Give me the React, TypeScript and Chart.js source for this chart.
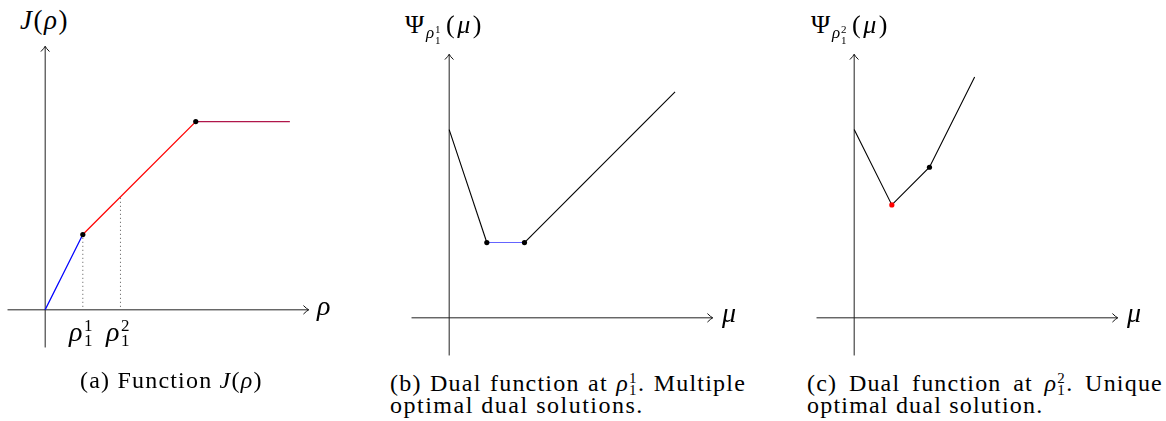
import React, { useEffect, useRef } from "react";
import { Chart, registerables } from "chart.js";

Chart.register(...registerables);

// ---------- data ----------
const axisRange = [-1, 7];

// panel (a): J(rho)
const rhoA = [0, 1, 4, 6.5];
const jA = [0, 2, 5, 5];
const segColorsA = ["#0000ff", "#ff0000", "#b0164a"];
const markA = [false, true, true, false];
const rhoTicks = [1, 2];
const rhoTickJ = [2, 3];
const rhoTickSup = ["1", "2"];
const rhoTickSub = ["1", "1"];

// panel (b): Psi at rho_1^1
const muB = [0, 1, 2, 6];
const psiB = [5, 2, 2, 6];
const segColorsB = ["#000000", "#6464ff", "#000000"];
const markB = [false, true, true, false];
const markColorsB = ["#000", "#000", "#000", "#000"];

// panel (c): Psi at rho_1^2
const muC = [0, 1, 2, 3.2];
const psiC = [5, 3, 4, 6.4];
const segColorsC = ["#000000", "#000000", "#000000"];
const markC = [false, true, true, false];
const markColorsC = ["#000", "#ff0000", "#000", "#000"];

const SCALE_MIN = -1.2;
const SCALE_MAX = 7.3;
const SIZE = 320;

const arrowPlugin = {
  id: "arrows",
  afterDatasetsDraw(chart: any) {
    const { ctx, scales } = chart;
    const xs = scales.x;
    const ys = scales.y;
    const x0 = xs.getPixelForValue(0);
    const y0 = ys.getPixelForValue(0);
    const xEnd = xs.getPixelForValue(axisRange[1]);
    const yEnd = ys.getPixelForValue(axisRange[1]);
    ctx.save();
    ctx.strokeStyle = "#111";
    ctx.lineWidth = 1;
    ctx.lineCap = "round";
    ctx.beginPath();
    ctx.moveTo(xEnd - 5, y0 - 4);
    ctx.quadraticCurveTo(xEnd - 2, y0 - 1, xEnd, y0);
    ctx.quadraticCurveTo(xEnd - 2, y0 + 1, xEnd - 5, y0 + 4);
    ctx.stroke();
    ctx.beginPath();
    ctx.moveTo(x0 - 4, yEnd + 5);
    ctx.quadraticCurveTo(x0 - 1, yEnd + 2, x0, yEnd);
    ctx.quadraticCurveTo(x0 + 1, yEnd + 2, x0 + 4, yEnd + 5);
    ctx.stroke();
    ctx.restore();
  },
};

function axisDatasets() {
  const base = { borderColor: "#222", borderWidth: 1, pointRadius: 0, showLine: true, clip: false, order: 10 };
  return [
    { ...base, data: [{ x: axisRange[0], y: 0 }, { x: axisRange[1], y: 0 }] },
    { ...base, data: [{ x: 0, y: axisRange[0] }, { x: 0, y: axisRange[1] }] },
  ];
}

function curveDataset(xs: number[], ys: number[], segColors: string[], marks: boolean[], markColors: string[], width: number) {
  return {
    data: xs.map((x, i) => ({ x, y: ys[i] })),
    showLine: true,
    borderWidth: width,
    borderColor: "#000",
    segment: { borderColor: (c: any) => segColors[c.p0DataIndex] },
    pointRadius: marks.map((m) => (m ? 2.6 : 0)),
    pointBackgroundColor: markColors,
    pointBorderColor: markColors,
    pointBorderWidth: 0,
    clip: false,
    order: 0,
  };
}

function makeConfig(datasets: any[]) {
  return {
    type: "scatter",
    data: { datasets },
    options: {
      animation: false,
      responsive: false,
      devicePixelRatio: 1,
      events: [],
      layout: { padding: 0 },
      plugins: { legend: { display: false }, tooltip: { enabled: false } },
      scales: {
        x: { type: "linear", min: SCALE_MIN, max: SCALE_MAX, display: false },
        y: { type: "linear", min: SCALE_MIN, max: SCALE_MAX, display: false },
      },
    },
    plugins: [arrowPlugin],
  };
}

function Panel({ left, top, datasets }: { left: number; top: number; datasets: any[] }) {
  const ref = useRef<HTMLCanvasElement>(null);
  useEffect(() => {
    const chart = new Chart(ref.current as any, makeConfig(datasets) as any);
    return () => chart.destroy();
  }, []);
  return <canvas ref={ref} width={SIZE} height={SIZE} style={{ position: "absolute", left, top, width: SIZE, height: SIZE }} />;
}

// ---------- text helpers ----------
const FONT = '"Liberation Serif", serif';
const ASC = 0.3375; // baseline offset for line-height 0 boxes

function T({ x, base, size, it, ls = 0, children }: any) {
  return (
    <div
      style={{
        position: "absolute",
        left: x,
        top: base - ASC * size,
        fontFamily: FONT,
        fontSize: size,
        fontStyle: it ? "italic" : "normal",
        lineHeight: 0,
        letterSpacing: ls,
        whiteSpace: "nowrap",
        color: "#000",
      }}
    >
      {children}
    </div>
  );
}

function Scr({ sup, sub, size, up, down, w }: any) {
  const child = (dy: number): any => ({
    position: "absolute",
    left: 0,
    top: dy - ASC * size,
    fontSize: size,
    lineHeight: 0,
    fontStyle: "normal",
    letterSpacing: 0,
  });
  return (
    <span style={{ display: "inline-block", position: "relative", width: w, height: 0 }}>
      <span style={child(-up)}>{sup}</span>
      <span style={child(down)}>{sub}</span>
    </span>
  );
}

function Rho({ sup, sub }: { sup: string; sub: string }) {
  return (
    <span style={{ whiteSpace: "nowrap" }}>
      <i>ρ</i>
      <Scr sup={sup} sub={sub} size={15} up={8} down={4} w={9} />
    </span>
  );
}

export default function App() {
  const dotted = rhoTicks.map((r, i) => ({
    data: [{ x: r, y: 0.08 }, { x: r, y: rhoTickJ[i] }],
    showLine: true,
    borderColor: "#555",
    borderWidth: 1,
    borderDash: [1, 3],
    pointRadius: 0,
    clip: false,
    order: 5,
  }));

  const dsA = [...axisDatasets(), ...dotted, curveDataset(rhoA, jA, segColorsA, markA, ["#000", "#000", "#000", "#000"], 1.3)];
  const dsB = [...axisDatasets(), curveDataset(muB, psiB, segColorsB, markB, markColorsB, 1.1)];
  const dsC = [...axisDatasets(), curveDataset(muC, psiC, segColorsC, markC, markColorsC, 1.1)];

  const capSize = 24;
  const capLs = 1.2;
  const lineBox = (x: number, base: number, w: number, children: any) => (
    <div
      style={{
        position: "absolute",
        left: x,
        top: base - ASC * capSize,
        width: w,
        display: "flex",
        justifyContent: "space-between",
        alignItems: "baseline",
        fontFamily: FONT,
        fontSize: capSize,
        lineHeight: 0,
        letterSpacing: capLs,
        whiteSpace: "nowrap",
        color: "#000",
      }}
    >
      {children}
    </div>
  );

  const psiLabel = (x: number, sup: string) => (
    <>
      <T x={x} base={34} size={26}>Ψ</T>
      <T x={x + 21} base={39} size={17} it>ρ</T>
      <T x={x + 30} base={33} size={11}>{sup}</T>
      <T x={x + 30} base={44} size={11}>1</T>
      <T x={x + 41} base={34} size={26} ls={2.5}>
        (<i>μ</i>)
      </T>
    </>
  );

  return (
    <div style={{ position: "absolute", left: 0, top: 0, width: 1166, height: 421, background: "#fff", overflow: "hidden" }}>
      <Panel left={0} top={35} datasets={dsA} />
      <Panel left={404} top={43} datasets={dsB} />
      <Panel left={809} top={43} datasets={dsC} />

      {/* panel (a) labels */}
      <T x={20} base={29} size={27} ls={1.5}>
        <i>J</i>(<i>ρ</i>)
      </T>
      <T x={317} base={315} size={28} it>ρ</T>
      {rhoTicks.map((_, i) => (
        <React.Fragment key={i}>
          <T x={[69, 106][i]} base={341} size={28} it>ρ</T>
          <T x={[84, 121][i]} base={332} size={17}>{rhoTickSup[i]}</T>
          <T x={[84, 121][i]} base={347} size={17}>{rhoTickSub[i]}</T>
        </React.Fragment>
      ))}

      {/* panel (b) labels */}
      {psiLabel(405, "1")}
      <T x={722} base={322} size={28} it>μ</T>

      {/* panel (c) labels */}
      {psiLabel(811, "2")}
      <T x={1127} base={322} size={28} it>μ</T>

      {/* captions */}
      <T x={80} base={388} size={capSize} ls={capLs}>
        (a) Function <i>J</i>(<i>ρ</i>)
      </T>

      {lineBox(390, 391, 356, [
        <span key="1">(b)</span>,
        <span key="2">Dual</span>,
        <span key="3">function</span>,
        <span key="4">at</span>,
        <span key="5"><Rho sup="1" sub="1" />.</span>,
        <span key="6">Multiple</span>,
      ])}
      <T x={390} base={413} size={capSize} ls={capLs + 0.3}>optimal dual solutions.</T>

      {lineBox(807, 391, 356, [
        <span key="1">(c)</span>,
        <span key="2">Dual</span>,
        <span key="3">function</span>,
        <span key="4">at</span>,
        <span key="5"><Rho sup="2" sub="1" />.</span>,
        <span key="6">Unique</span>,
      ])}
      <T x={807} base={413} size={capSize} ls={capLs}>optimal dual solution.</T>
    </div>
  );
}
